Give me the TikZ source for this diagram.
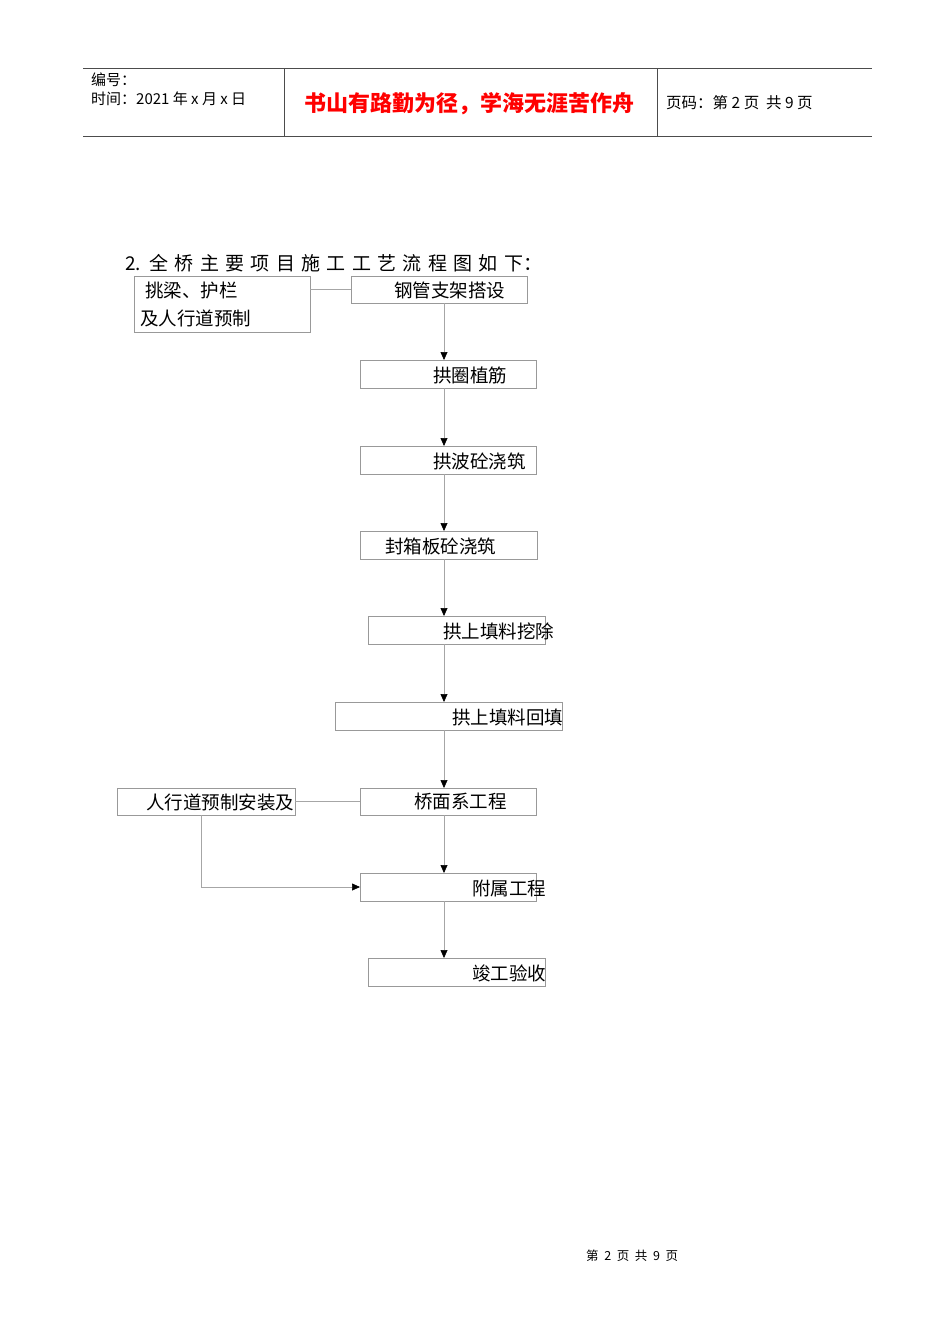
\documentclass[tikz,border=0pt]{standalone}
\usepackage{fontspec}
\setmainfont{Noto Sans CJK SC}
\newfontfamily\serifcjk{Noto Sans CJK SC}
\usetikzlibrary{arrows.meta}
\begin{document}
\begin{tikzpicture}[x=1pt,y=-1pt,
 bx/.style={draw=black!40,line width=0.6pt},
 tx/.style={anchor=west,inner sep=0pt,font=\fontsize{18.5}{18.5}\selectfont},
 ln/.style={draw=black!35,line width=0.6pt},
 ar/.style={ln,-{Triangle[length=8pt,width=7pt,color=black]}}]
\useasboundingbox (0,0) rectangle (950,1344);
% header
\draw[line width=0.8pt,black!70] (83,68)--(872,68) (83,136)--(872,136) (284,68)--(284,136) (657,68)--(657,136);
\node[tx,font=\fontsize{15}{15}\selectfont] (h1) at (91,80) {编号：};
\node[tx,font=\fontsize{15}{15}\selectfont] (h2) at (91,99) {时间：2021 年 x 月 x 日};
\node[tx,font=\fontsize{22}{22}\selectfont\bfseries,text=red] (h3) at (304,104) {书山有路勤为径，学海无涯苦作舟};
\node[tx,font=\fontsize{15.5}{15.5}\selectfont] (h4) at (666,103) {页码：第 2 页\ \ 共 9 页};
\node[tx,font=\fontsize{19}{19}\selectfont] (t) at (125,263) {2.\ \ 全\,\,桥\,\,主\,\,要\,\,项\,\,目\,\,施\,\,工\,\,工\,\,艺\,\,流\,\,程\,\,图\,\,如\,\,下：};
% boxes
\draw[bx] (134,276) rectangle (310,332); \coordinate (a) at (310,289);
\node[tx] (a1) at (145,290) {挑梁、护栏};
\node[tx] (a2) at (140,318) {及人行道预制};
\draw[bx] (351,276) rectangle (527,303);
\coordinate (bL) at (351,289); \coordinate (bB) at (444,303);
\node[tx] (b) at (394,290) {钢管支架搭设};
\draw[bx] (360,360) rectangle (536,388); \coordinate (cT) at (444,360); \coordinate (cB) at (444,388);
\node[tx] (c) at (433,375) {拱圈植筋};
\draw[bx] (360,446) rectangle (536,474); \coordinate (dT) at (444,446); \coordinate (dB) at (444,474);
\node[tx] (d) at (433,461) {拱波砼浇筑};
\draw[bx] (360,531) rectangle (537,559); \coordinate (eT) at (444,531); \coordinate (eB) at (444,559);
\node[tx] (e) at (385,546) {封箱板砼浇筑};
\draw[bx] (368,616) rectangle (545,644); \coordinate (fT) at (444,616); \coordinate (fB) at (444,644);
\node[tx] (f) at (443,631) {拱上填料挖除};
\draw[bx] (335,702) rectangle (562,730); \coordinate (gT) at (444,702); \coordinate (gB) at (444,730);
\node[tx] (g) at (452,717) {拱上填料回填};
\draw[bx] (360,788) rectangle (536,815); \coordinate (hT) at (444,788); \coordinate (hB) at (444,815); \coordinate (hL) at (360,801);
\node[tx] (h) at (414,802) {桥面系工程};
\draw[bx] (117,788) rectangle (295,815); \coordinate (iR) at (295,801); \coordinate (iB) at (201,815);
\node[tx] (i) at (146,802) {人行道预制安装及};
\draw[bx] (360,873) rectangle (536,901); \coordinate (jT) at (444,873); \coordinate (jB) at (444,901); \coordinate (jL) at (360,887);
\node[tx] (j) at (472,888) {附属工程};
\draw[bx] (368,958) rectangle (545,986); \coordinate (kT) at (444,958);
\node[tx] (k) at (472,973) {竣工验收};
% connectors
\draw[ln] (a)--(bL);
\draw[ln] (iR)--(hL);
\draw[ar] (bB)--(cT);
\draw[ar] (cB)--(dT);
\draw[ar] (dB)--(eT);
\draw[ar] (eB)--(fT);
\draw[ar] (fB)--(gT);
\draw[ar] (gB)--(hT);
\draw[ar] (hB)--(jT);
\draw[ar] (jB)--(kT);
\draw[ar] (iB)|-(jL);
% footer
\node[tx,font=\fontsize{12.5}{12.5}\selectfont] (ft) at (586,1256) {第\ \ 2\ \ 页\ \ 共\ \ 9\ \ 页};
\end{tikzpicture}
\end{document}
